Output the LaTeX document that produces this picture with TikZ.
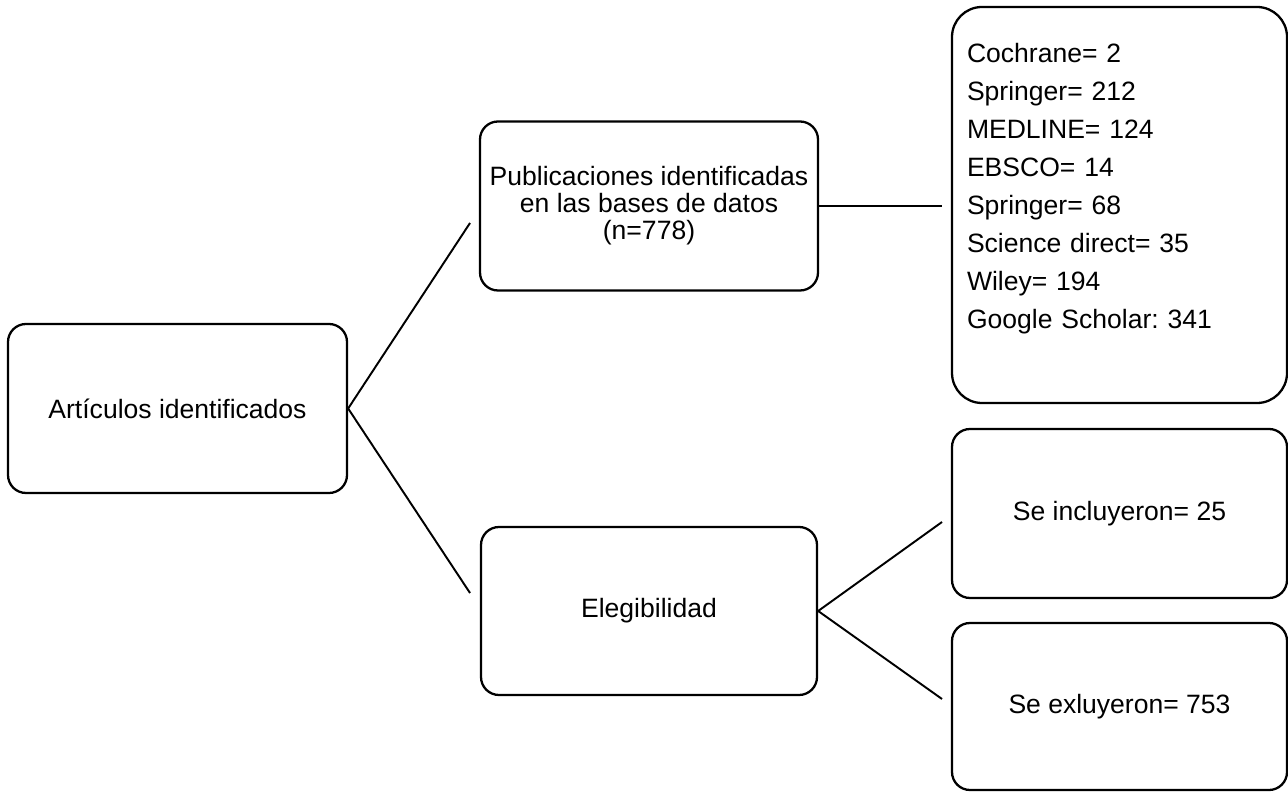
\documentclass[tikz,border=0pt]{standalone}
\usepackage{fontspec}
\setmainfont{Liberation Sans}
\usetikzlibrary{positioning}
\frenchspacing

\begin{document}
\begin{tikzpicture}[line join=round]
\tikzstyle{blk}=[draw,line width=1.3pt,rounded corners=0.36cm,align=center,font=\fontsize{15.1}{15.3}\selectfont]
\tikzstyle{lnk}=[line width=1.1pt]
\useasboundingbox (0,0) rectangle (25.76,15.82);
\node[blk,minimum width=6.78cm,minimum height=3.38cm] (art) at (3.55,7.65) {Artículos identificados};
\node[blk,minimum width=6.76cm,minimum height=3.38cm] (pub) at (12.98,11.70) {Publicaciones identificadas\\ en las bases de datos\\ (n=778)};
\node[blk,minimum width=6.72cm,minimum height=3.36cm] (ele) at (12.98,3.60) {Elegibilidad};
\node[blk,rounded corners=0.6cm,minimum width=6.70cm,minimum height=7.92cm,text width=6.1cm,align=left,font=\fontsize{15.1}{21.6}\selectfont] (lst) at (22.39,11.72) {Cochrane= 2\\ Springer= 212\\ MEDLINE= 124\\ EBSCO= 14\\ Springer= 68\\ Science direct= 35\\ Wiley= 194\\ Google Scholar: 341\\ \mbox{}};
\node[blk,minimum width=6.70cm,minimum height=3.38cm] (inc) at (22.39,5.55) {Se incluyeron= 25};
\node[blk,minimum width=6.70cm,minimum height=3.34cm] (exc) at (22.39,1.69) {Se exluyeron= 753};
% free ends of the connectors
\coordinate (c1) at (9.40,11.36);
\coordinate (c2) at (9.40,3.96);
\coordinate (c3) at (18.84,11.70);
\coordinate (c4) at (18.84,5.38);
\coordinate (c5) at (18.84,1.84);
\draw[lnk] (art.east) -- (c1);
\draw[lnk] (art.east) -- (c2);
\draw[lnk] (pub.east) -- (c3);
\draw[lnk] (ele.east) -- (c4);
\draw[lnk] (ele.east) -- (c5);
\end{tikzpicture}
\end{document}
